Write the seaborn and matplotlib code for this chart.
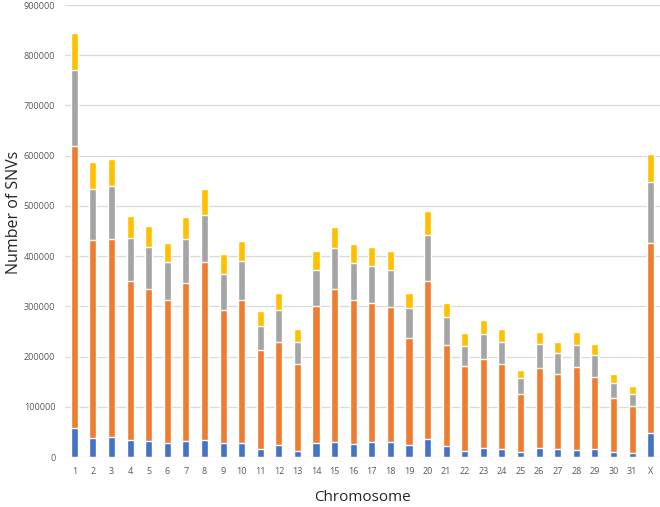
import numpy as np
import pandas as pd
import matplotlib
matplotlib.use("Agg")
import matplotlib.pyplot as plt
import seaborn as sns

sns.set_style("white")
plt.rcParams['font.family'] = ['Open Sans', 'DejaVu Sans']

# 염색체별 SNV 수 (천 단위, 그림에서 읽은 값)
chromosomes = [str(i) for i in range(1, 32)] + ['X']
seg_blue = [58, 38, 40, 34, 32, 28, 32, 34, 27, 27, 15, 23, 11, 27, 29, 25,
            29, 29, 23, 35, 22, 11, 18, 15, 9, 18, 15, 13, 15, 9, 7, 47]
seg_orange = [562, 395, 395, 316, 303, 285, 314, 354, 265, 285, 198, 206, 174, 274, 305, 287,
              277, 269, 214, 315, 202, 171, 178, 171, 117, 160, 151, 167, 145, 109, 95, 380]
seg_gray = [150, 101, 105, 87, 83, 76, 88, 94, 73, 78, 48, 63, 44, 71, 82, 74,
            74, 74, 60, 92, 55, 39, 49, 43, 32, 48, 42, 44, 44, 30, 24, 120]
seg_yellow = [75, 53, 53, 43, 42, 37, 44, 51, 39, 40, 29, 35, 25, 38, 42, 38,
              38, 38, 30, 48, 28, 25, 27, 25, 16, 22, 22, 24, 22, 17, 15, 56]

df = pd.DataFrame({
    'Chromosome': chromosomes,
    'blue': np.array(seg_blue) * 1000,
    'orange': np.array(seg_orange) * 1000,
    'gray': np.array(seg_gray) * 1000,
    'yellow': np.array(seg_yellow) * 1000,
})

colors = {'blue': '#4472C4', 'orange': '#ED7D31', 'gray': '#A5A5A5', 'yellow': '#FFC000'}
order = ['blue', 'orange', 'gray', 'yellow']

fig = plt.figure(figsize=(6.6, 5.07), dpi=100)
ax = fig.add_axes([0.0985, 0.0986, 0.9015, 0.8915])

# 누적 막대: 위 구간부터 겹쳐 그림
cum = df[order].cumsum(axis=1)
for seg in reversed(order):
    sns.barplot(x=df['Chromosome'], y=cum[seg], color=colors[seg], width=0.38,
                order=chromosomes, ax=ax, saturation=1, zorder=3)

ax.set_ylim(0, 900000)
ax.set_xlim(-0.5, len(chromosomes) - 0.5)
ax.set_yticks(np.arange(0, 900001, 100000))
ax.set_yticklabels([str(v) for v in range(0, 900001, 100000)])
ax.yaxis.grid(True, color='#D9D9D9', linewidth=0.9, zorder=0)
ax.set_axisbelow(True)
for s in ax.spines.values():
    s.set_visible(False)
ax.tick_params(axis='both', length=0, labelsize=6.5, labelcolor='#595959')
ax.tick_params(axis='y', pad=7)
ax.tick_params(axis='x', pad=7)
ax.set_xlabel('Chromosome', fontsize=11, labelpad=10)
ax.set_ylabel('Number of SNVs', fontsize=11.5)
ax.yaxis.set_label_coords(-0.072, 0.542)

plt.savefig('out.png', dpi=100)
